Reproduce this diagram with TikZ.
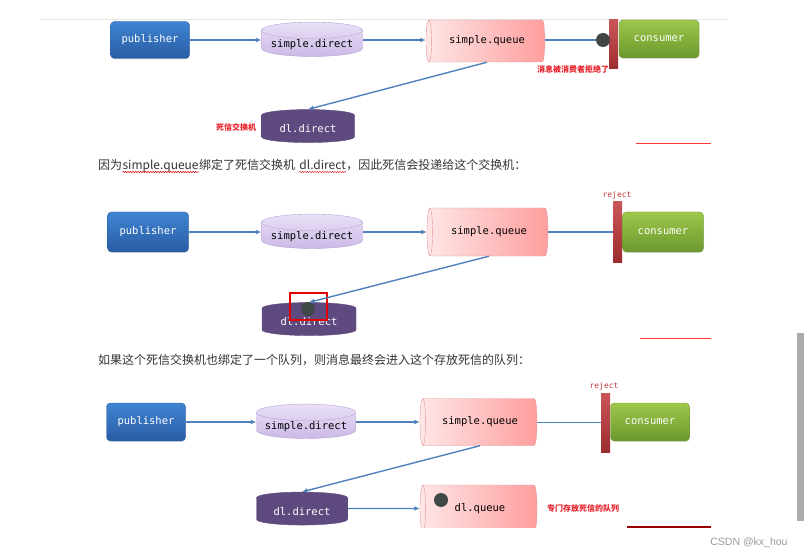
\documentclass[tikz,border=0pt]{standalone}
\usepackage{fontspec}
\setmainfont{Noto Sans CJK SC}
\setmonofont{DejaVu Sans Mono}
\newfontfamily\markfont{Liberation Sans}
\usetikzlibrary{arrows.meta,positioning,shapes.geometric,shadows,decorations.pathmorphing}

\definecolor{pubtop}{HTML}{3F84D2}
\definecolor{pubbot}{HTML}{2A5CA3}
\definecolor{sdtop}{HTML}{EAE1F6}
\definecolor{sdbot}{HTML}{CBB9E6}
\definecolor{sdline}{HTML}{B7A2D6}
\definecolor{qleft}{HTML}{FFE6E6}
\definecolor{qright}{HTML}{FF9E9E}
\definecolor{qline}{HTML}{E29797}
\definecolor{contop}{HTML}{9EC74B}
\definecolor{conbot}{HTML}{6B982E}
\definecolor{dlfill}{HTML}{5E4A7F}
\definecolor{barred}{HTML}{C2383A}
\definecolor{flowblue}{HTML}{4F81BD}
\definecolor{dotgray}{HTML}{3F4747}
\definecolor{notered}{HTML}{E8212B}
\definecolor{textgray}{HTML}{333333}

\newcommand{\boxfont}{\ttfamily\fontsize{10.5}{12}\selectfont}
\newcommand{\notefont}{\bfseries\fontsize{8}{9}\selectfont}

\tikzset{
  roundbox/.style={rounded corners=4pt, inner sep=0pt, text=white, font=\boxfont,
    drop shadow={opacity=0.2, shadow xshift=0.6pt, shadow yshift=-0.8pt}},
  publisher/.style={roundbox, top color=pubtop, bottom color=pubbot, draw=pubbot},
  consumer/.style={roundbox, top color=contop, bottom color=conbot, draw=conbot},
  exchange/.style={cylinder, shape border rotate=90, aspect=0.2, inner sep=0pt,
    text height=8.5pt, text depth=1pt,
    font=\boxfont, top color=sdtop, bottom color=sdbot, draw=sdline},
  dlexchange/.style={exchange, top color=dlfill, bottom color=dlfill, draw=dlfill, text=white},
  queue/.style={cylinder, shape border rotate=180, aspect=0.55, inner sep=0pt,
    font=\boxfont, left color=qleft, right color=qright, draw=qline},
  rejectbar/.style={rectangle, inner sep=0pt, minimum width=9pt, top color=barred!85!white,
    bottom color=barred!80!black, draw=none},
  msgdot/.style={circle, fill=dotgray, inner sep=0pt, minimum size=14pt},
  flow/.style={draw=flowblue, line width=1.4pt, -{Latex[length=5.5pt,width=5pt]}},
  link/.style={draw=flowblue, line width=1.4pt},
  note/.style={text=notered, font=\notefont, inner sep=0pt},
  rejtext/.style={text=barred, font=\ttfamily\fontsize{8}{9}\selectfont, inner sep=0pt},
  bodytext/.style={text=textgray, font=\fontsize{12}{14}\selectfont, inner sep=0pt, anchor=base west},
  spell/.style={draw=red!85!black, line width=0.5pt, decorate,
    decoration={snake, amplitude=0.6pt, segment length=2.5pt}},
  markline/.style={draw=red!75!black, line width=1pt},
  focusbox/.style={draw=red!90!black, line width=1.2pt},
}

\begin{document}
\begin{tikzpicture}[x=1pt,y=-1pt]
  \useasboundingbox (0,0) rectangle (804,559);
  \draw[black!10] (40,19) -- (728,19);

  %%%% First diagram =====================================
  \node[publisher, minimum width=79pt, minimum height=37pt] (pub1) at (150,40) {publisher};
  \node[exchange, minimum width=101pt, minimum height=34pt] (sd1) at (312,43.5) {simple.direct};
  \node[queue, minimum width=42pt, minimum height=119pt] (sq1) at (487,41) {simple.queue};
  \node[rejectbar, minimum height=49pt] (bar1) at (613.5,44.5) {};
  \node[msgdot] (dot1) at (603,40) {};
  \node[consumer, minimum width=80pt, minimum height=38pt] (con1) at (659,39) {consumer};
  \node[dlexchange, minimum width=93pt, minimum height=33pt] (dl1) at (308,129) {dl.direct};

  % Notes
  \node[note] (dlnote1) at (236,127) {死信交换机};
  \node[note] (rejnote1) at (573,69) {消息被消费者拒绝了};
  \draw[markline, red!80] (636,144) -- (711,144);

  % Arcs
  \draw[flow] (pub1) -- (sd1.west |- pub1);
  \draw[flow] (sd1.east |- pub1) -- (sq1.west |- pub1);
  \draw[link] (sq1.east |- dot1) -- (dot1);
  \draw[flow] (sq1.south) -- (dl1.north);

  %%%% Text ==============================================
  \node[bodytext] (t1a) at (98,170) {因为};
  \node[bodytext] (t1b) at (t1a.base east) {simple.queue};
  \node[bodytext] (t1c) at (t1b.base east) {绑定了死信交换机\kern4pt};
  \node[bodytext] (t1d) at (t1c.base east) {dl.direct};
  \node[bodytext] (t1e) at (t1d.base east) {，因此死信会投递给这个交换机：};
  \draw[spell] ([yshift=-2pt]t1b.base west) -- ([yshift=-2pt]t1b.base east);
  \draw[spell] ([yshift=-2pt]t1d.base west) -- ([yshift=-2pt]t1d.base east);

  %%%% Second diagram ====================================
  \node[publisher, minimum width=81pt, minimum height=40pt] (pub2) at (148,232) {publisher};
  \node[exchange, minimum width=101pt, minimum height=34pt] (sd2) at (312,235.5) {simple.direct};
  \node[queue, minimum width=48pt, minimum height=121pt] (sq2) at (489,232) {simple.queue};
  \node[rejectbar, minimum height=60pt] (bar2) at (617.5,232) {};
  \node[rejtext] (rej2) at (617,195) {reject};
  \node[consumer, minimum width=81pt, minimum height=40pt] (con2) at (663,232) {consumer};
  \node[dlexchange, minimum width=94pt, minimum height=33pt] (dl2) at (309,322) {dl.direct};
  \node[msgdot] (dot2) at (308,309) {};
  \draw[focusbox] (290,293) rectangle (327,320);
  \draw[markline, red!80] (640,338) -- (711,338);

  % Arcs
  \draw[flow] (pub2) -- (sd2.west |- pub2);
  \draw[flow] (sd2.east |- pub2) -- (sq2.west |- pub2);
  \draw[link] (sq2.east |- bar2) -- (bar2.west);
  \draw[flow] (sq2.south) -- (dl2.north);

  %%%% Text ==============================================
  \node[bodytext] (t2) at (98,364) {如果这个死信交换机也绑定了一个队列，则消息最终会进入这个存放死信的队列：};

  %%%% Third diagram =====================================
  \node[publisher, minimum width=79pt, minimum height=38pt] (pub3) at (146,422) {publisher};
  \node[exchange, minimum width=99pt, minimum height=33pt] (sd3) at (306,425.5) {simple.direct};
  \node[queue, minimum width=47pt, minimum height=117pt] (sq3) at (480,422) {simple.queue};
  \node[rejectbar, minimum height=59pt] (bar3) at (605.5,422.5) {};
  \node[rejtext] (rej3) at (604,386) {reject};
  \node[consumer, minimum width=79pt, minimum height=38pt] (con3) at (650,422) {consumer};
  \node[dlexchange, minimum width=91pt, minimum height=33pt] (dl3) at (302,511.5) {dl.direct};
  \begin{scope}
    \clip (400,470) rectangle (560,527);
    \node[queue, minimum width=47pt, minimum height=117pt] (dq3) at (480,508.5) {dl.queue};
  \end{scope}
  \node[msgdot] (dot3) at (441,500) {};
  \node[note] (dqnote3) at (583,508) {专门存放死信的队列};
  \draw[markline, red!60!black, line width=2pt] (627,527) -- (711,527);

  % Arcs
  \draw[flow] (pub3) -- (sd3.west |- pub3);
  \draw[flow] (sd3.east |- pub3) -- (sq3.west |- pub3);
  \draw[link] (sq3.east |- bar3) -- (bar3.west);
  \draw[flow] (sq3.south) -- (dl3.north);
  \draw[flow] (dl3.east |- dq3) -- (dq3.west);

  %%%% Page ==============================================
  \fill[black!33] (797,333) rectangle (804,521);
  \node[text=black!40, font=\markfont\fontsize{10.5}{12}\selectfont] (mark) at (749,543) {CSDN @kx\_hou};
\end{tikzpicture}
\end{document}
